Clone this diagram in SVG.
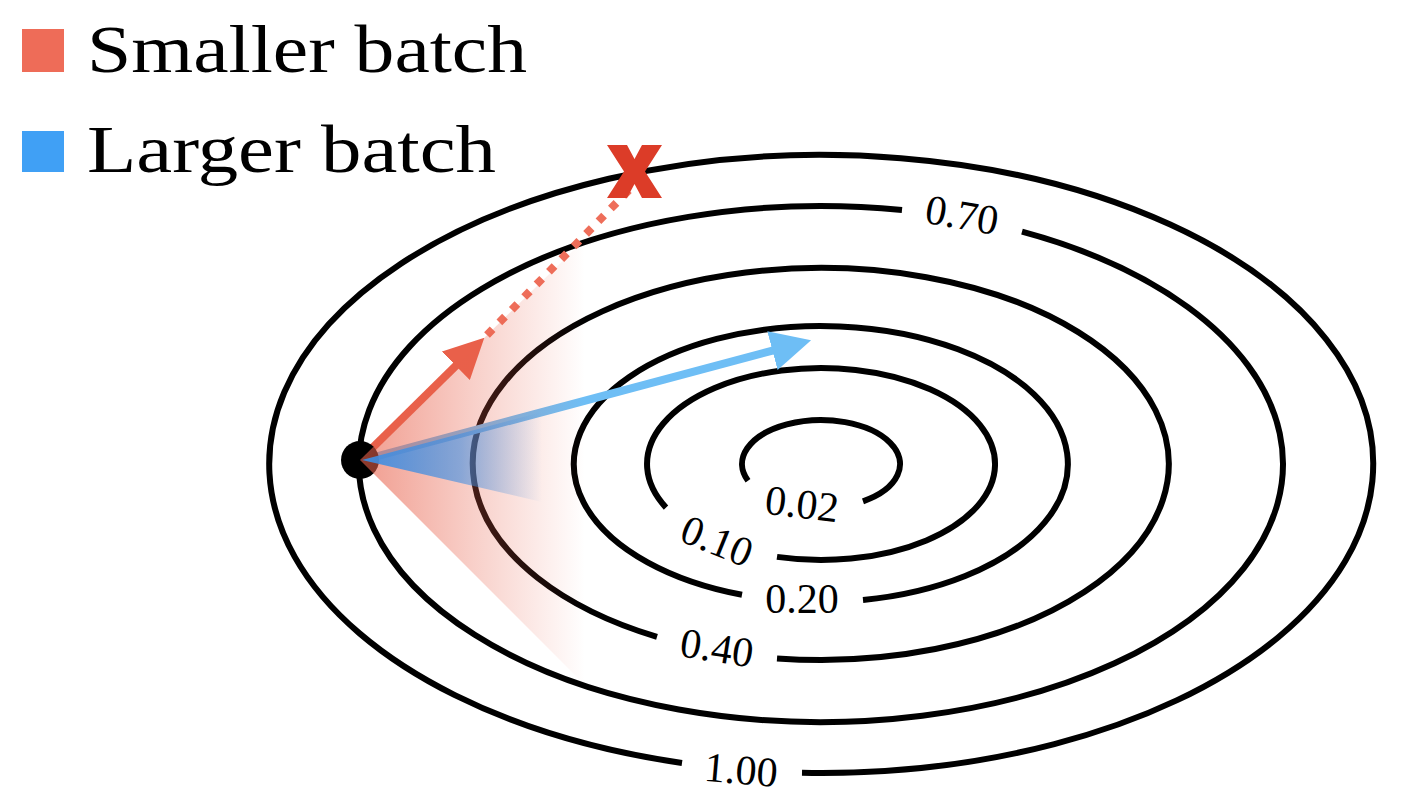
<svg xmlns="http://www.w3.org/2000/svg" width="1406" height="810" viewBox="0 0 1406 810">
  <style>
    .contour { fill: none; stroke: #000; stroke-width: 6; }
    .lbl { font-family: "Liberation Serif", "Times New Roman", serif; font-size: 42px; text-anchor: middle; fill: #000; }
    .leg { font-family: "Liberation Serif", "Times New Roman", serif; font-size: 68px; fill: #000; }
  </style>
  <defs>
    <linearGradient id="redFade" gradientUnits="userSpaceOnUse" x1="360" y1="0" x2="585" y2="0">
      <stop offset="0" stop-color="#E8604A" stop-opacity="0.62"/>
      <stop offset="0.5" stop-color="#E8604A" stop-opacity="0.3"/>
      <stop offset="1" stop-color="#E8604A" stop-opacity="0"/>
    </linearGradient>
    <linearGradient id="blueFade" gradientUnits="userSpaceOnUse" x1="362" y1="0" x2="542" y2="0">
      <stop offset="0" stop-color="#3F8EE2" stop-opacity="0.95"/>
      <stop offset="0.55" stop-color="#3F8EE2" stop-opacity="0.6"/>
      <stop offset="1" stop-color="#3F8EE2" stop-opacity="0"/>
    </linearGradient>
    <marker id="headRed" viewBox="0 0 40 40" markerWidth="40" markerHeight="40" refX="1" refY="20" orient="auto" markerUnits="userSpaceOnUse">
      <path d="M0,0 L40,20 L0,40 Z" fill="#E9604A"/>
    </marker>
    <marker id="headBlue" viewBox="0 0 40 40" markerWidth="40" markerHeight="40" refX="1" refY="20" orient="auto" markerUnits="userSpaceOnUse">
      <path d="M0,0 L40,20 L0,40 Z" fill="#6EBEF5"/>
    </marker>
  </defs>

  <rect width="1406" height="810" fill="#fff"/>

  <g id="legend">
    <g id="legend-smaller">
      <rect x="22" y="29" width="42" height="43" fill="#EE6C58"/>
      <text class="leg" x="87" y="72" textLength="440" lengthAdjust="spacingAndGlyphs">Smaller batch</text>
    </g>
    <g id="legend-larger">
      <rect x="22" y="131" width="42" height="41" fill="#40A0F5"/>
      <text class="leg" x="87" y="172" textLength="409" lengthAdjust="spacingAndGlyphs">Larger batch</text>
    </g>
  </g>

  <g id="contours">
    <g id="contour-1.00">
      <path class="contour" d="M682,763.0 A552,309 0 1 1 802,772.8"/>
      <text class="lbl" transform="translate(741,770) rotate(5)" y="14">1.00</text>
    </g>
    <g id="contour-0.70">
      <path class="contour" d="M1022,231.7 A462,258 0 1 1 902,210.0"/>
      <text class="lbl" transform="translate(962,215) rotate(10)" y="14">0.70</text>
    </g>
    <g id="contour-0.40">
      <path class="contour" d="M657,636.9 A348,196 0 1 1 777,658.4"/>
      <text class="lbl" transform="translate(717,648) rotate(9)" y="14">0.40</text>
    </g>
    <g id="contour-0.20">
      <path class="contour" d="M742,594.8 A247,138 0 1 1 863,600.0"/>
      <text class="lbl" transform="translate(802,599)" y="14">0.20</text>
    </g>
    <g id="contour-0.10">
      <path class="contour" d="M666,507.6 A174,96 0 1 1 777,556.9"/>
      <text class="lbl" transform="translate(717,541) rotate(22)" y="14">0.10</text>
    </g>
    <g id="contour-0.02">
      <path class="contour" d="M748,480.8 A79,44 0 1 1 863,501.3"/>
      <text class="lbl" transform="translate(802,504) rotate(7)" y="14">0.02</text>
    </g>
  </g>

  <g id="connectors">
    <line id="small-batch-step" x1="360" y1="460" x2="456.5" y2="365.1" stroke="#E9604A" stroke-width="8" marker-end="url(#headRed)"/>
    <line id="small-batch-overshoot" x1="487" y1="335" x2="631" y2="188" stroke="#EE6E5A" stroke-width="8" stroke-dasharray="8 9.7"/>
    <line id="large-batch-step" x1="363" y1="460" x2="773.4" y2="350.3" stroke="#6EBEF5" stroke-width="8" marker-end="url(#headBlue)"/>
  </g>

  <g id="start-point">
    <circle cx="360" cy="460" r="19" fill="#000"/>
  </g>

  <g id="spread">
    <polygon id="red-spread" points="360,460 590,234 590,690" fill="url(#redFade)"/>
    <polygon id="blue-spread" points="362,460 542,412 542,502" fill="url(#blueFade)"/>
  </g>

  <g id="overshoot-mark">
    <polygon points="607,145 627,145 634.5,159 642,145 662,145 645,171.5 662,198 642,198 634.5,184 627,198 607,198 624,171.5" fill="#DC3C28"/>
  </g>
</svg>
